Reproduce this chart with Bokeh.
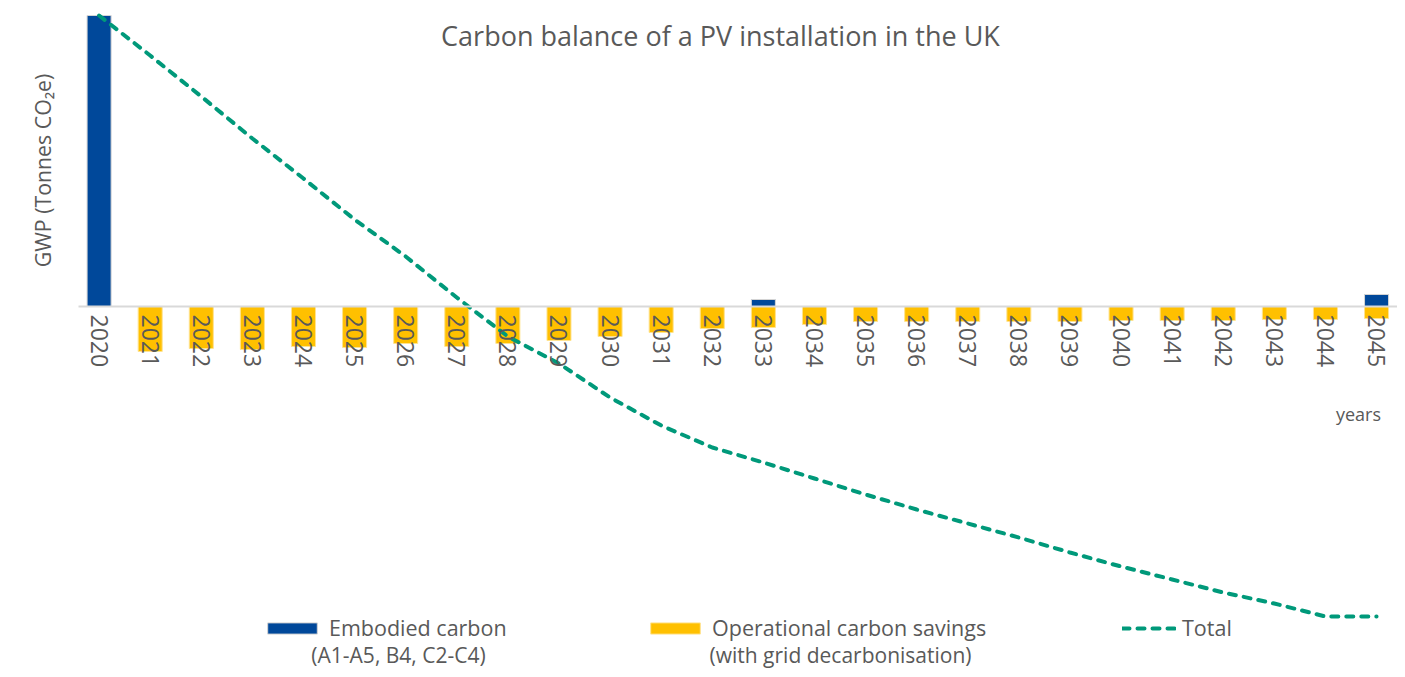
import math
from bokeh.plotting import figure
from bokeh.models import (Range1d, LinearAxis, FixedTicker, Label, Legend, LegendItem,
                          ColumnDataSource)
from bokeh.embed import file_html
from bokeh.resources import INLINE

# ---------------- data ----------------
years = [2020, 2021, 2022, 2023, 2024, 2025, 2026, 2027, 2028, 2029, 2030, 2031, 2032,
         2033, 2034, 2035, 2036, 2037, 2038, 2039, 2040, 2041, 2042, 2043, 2044, 2045]
embodied = [29.1, 0, 0, 0, 0, 0, 0, 0, 0, 0, 0, 0, 0,
            0.7, 0, 0, 0, 0, 0, 0, 0, 0, 0, 0, 0, 1.2]
operational = [0, -4.5, -4.2, -4.3, -4.0, -4.1, -3.7, -4.0, -3.7, -3.4, -3.0, -2.6, -2.2,
               -2.1, -1.8, -1.5, -1.5, -1.5, -1.5, -1.5, -1.4, -1.4, -1.4, -1.3, -1.3, -1.2]
total = [29.1, 25.1, 21.0, 16.8, 12.8, 8.7, 5.0, 0.9, -3.0, -5.7, -9.1, -11.9, -14.1,
         -15.6, -17.2, -18.8, -20.3, -21.7, -23.1, -24.6, -26.0, -27.3, -28.6, -29.7, -31.0, -31.0]

title_text = "Carbon balance of a PV installation in the UK"
y_title = "GWP (Tonnes CO\u2082e)"
x_title = "years"
legend_emb = ("Embodied carbon", "(A1-A5, B4, C2-C4)")
legend_op = ("Operational carbon savings", "(with grid decarbonisation)")
legend_tot = "Total"

FONT = "Open Sans"
GREY = "#595959"
BLUE = "#00489a"
YELLOW = "#ffc000"
GREEN = "#00997a"

W, H = 1397, 669
src = ColumnDataSource(dict(year=years, emb=embodied, op=operational, tot=total))

p = figure(width=W, height=H, x_range=Range1d(2018.0705, 2045.41),
           y_range=Range1d(-36.3, 30.6), x_axis_type=None, y_axis_type=None,
           toolbar_location=None, output_backend="svg", min_border=0)
p.outline_line_color = None
p.background_fill_color = "white"

r_op = p.vbar(x="year", top="op", bottom=0, width=0.47, source=src,
              fill_color=YELLOW, line_color="#ffe38f", line_width=1)
r_emb = p.vbar(x="year", top="emb", bottom=0, width=0.47, source=src,
               fill_color=BLUE, line_color="#d4d4d4", line_width=1)

xaxis = LinearAxis(fixed_location=0, ticker=FixedTicker(ticks=years),
                   major_label_orientation="vertical", bounds=(2019.6, 2045.5))
xaxis.axis_line_color = "#d9d9d9"
xaxis.axis_line_width = 2
xaxis.major_tick_line_color = None
xaxis.minor_tick_line_color = None
xaxis.major_label_standoff = 2
xaxis.major_label_text_font = FONT
xaxis.major_label_text_font_size = "23px"
xaxis.major_label_text_color = GREY
p.add_layout(xaxis, "below")

r_tot = p.line(x="year", y="tot", source=src, line_color=GREEN, line_width=4,
               line_dash="7 8", line_cap="round")

# titles
p.add_layout(Label(x=720, y=634, x_units="screen", y_units="screen", text=title_text,
                   text_font=FONT, text_font_size="27px", text_color=GREY,
                   text_align="center", text_baseline="middle"))
p.add_layout(Label(x=42, y=499, x_units="screen", y_units="screen", text=y_title,
                   angle=math.pi / 2, text_font=FONT, text_font_size="21.3px",
                   text_color=GREY, text_align="center", text_baseline="middle"))
p.add_layout(Label(x=1358, y=256, x_units="screen", y_units="screen", text=x_title,
                   text_font=FONT, text_font_size="18px", text_color=GREY,
                   text_align="center", text_baseline="middle"))

def make_legend(label, rend, loc, gw, standoff):
    lg = Legend(items=[LegendItem(label=label, renderers=[rend])], location=loc,
                orientation="horizontal", glyph_width=gw, glyph_height=14,
                label_standoff=standoff, padding=0, margin=0, spacing=0,
                border_line_color=None, background_fill_alpha=0,
                label_text_font=FONT, label_text_font_size="21.5px",
                label_text_color=GREY)
    p.add_layout(lg)

make_legend(legend_emb[0], r_emb, (261, 27), 62, 6)
make_legend(legend_op[0], r_op, (644, 27), 62, 6)
make_legend(legend_tot, r_tot, (1122, 27), 54, 6)

p.add_layout(Label(x=398, y=15, x_units="screen", y_units="screen", text=legend_emb[1],
                   text_font=FONT, text_font_size="21px", text_color=GREY,
                   text_align="center", text_baseline="middle"))
p.add_layout(Label(x=840, y=15, x_units="screen", y_units="screen", text=legend_op[1],
                   text_font=FONT, text_font_size="21px", text_color=GREY,
                   text_align="center", text_baseline="middle"))

open("out.html", "w").write(file_html(p, INLINE))
